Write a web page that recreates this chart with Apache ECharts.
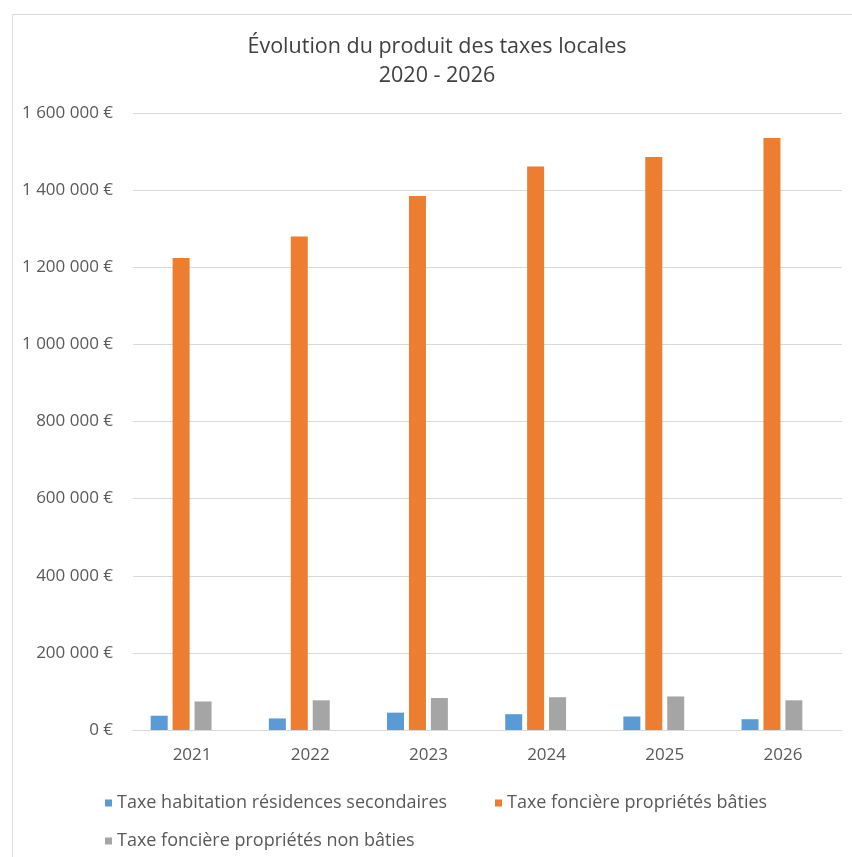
<!DOCTYPE html>
<html lang="fr">
<head>
<meta charset="utf-8">
<title>Évolution du produit des taxes locales</title>
<script src="https://cdn.jsdelivr.net/npm/echarts@6/dist/echarts.min.js"></script>
<style>
  html, body { margin: 0; padding: 0; background: #ffffff; }
  #chart { width: 852px; height: 857px; }
</style>
</head>
<body>
<div id="chart"></div>
<script>
// Years on the category axis
const years = ['2021', '2022', '2023', '2024', '2025', '2026'];

// Tax revenue per year, in euros
const habitationSecondaires = [37000, 30000, 45000, 41000, 35000, 28000];
const foncierBaties = [1224000, 1280000, 1385000, 1461000, 1486000, 1535000];
const foncierNonBaties = [74000, 77000, 83000, 85000, 87000, 77000];

// Value-axis ticks
const yTicks = [0, 200000, 400000, 600000, 800000, 1000000, 1200000, 1400000, 1600000];

const seriesNames = [
  'Taxe habitation résidences secondaires',
  'Taxe foncière propriétés bâties',
  'Taxe foncière propriétés non bâties'
];
const colors = ['#5B9BD5', '#ED7D31', '#A5A5A5'];
const textColor = '#595959';
const lineColor = '#D9D9D9';
const font = '"Open Sans", "Noto Sans", sans-serif';

function euro(v) {
  return String(v).replace(/\B(?=(\d{3})+(?!\d))/g, ' ') + ' €';
}

const chart = echarts.init(document.getElementById('chart'), null, { renderer: 'canvas' });

const legendBase = {
  orient: 'horizontal',
  icon: 'rect',
  itemWidth: 7,
  itemHeight: 7,
  padding: 0,
  selectedMode: false,
  textStyle: { color: textColor, fontFamily: font, fontSize: 18 }
};

const barSeries = [habitationSecondaires, foncierBaties, foncierNonBaties].map((data, i) => ({
  name: seriesNames[i],
  type: 'bar',
  data: data,
  barWidth: 17,
  barGap: '29%',
  itemStyle: { color: colors[i] },
  emphasis: { disabled: true }
}));

// Empty fourth slot in each category group
barSeries.push({
  name: 'slot',
  type: 'bar',
  data: years.map(() => null),
  barWidth: 17,
  barGap: '29%',
  silent: true
});

chart.setOption({
  animation: false,
  backgroundColor: '#ffffff',
  graphic: [{
    type: 'rect',
    left: 10,
    top: 12,
    shape: { width: 900, height: 900 },
    style: { fill: 'none', stroke: lineColor, lineWidth: 1 },
    silent: true
  }],
  title: {
    text: 'Évolution du produit des taxes locales\n2020 - 2026',
    left: 437,
    top: 32,
    padding: 0,
    textAlign: 'center',
    textStyle: {
      color: '#404040',
      fontFamily: font,
      fontSize: 21.5,
      fontWeight: 'normal',
      lineHeight: 29
    }
  },
  legend: [
    Object.assign({}, legendBase, { data: [seriesNames[0]], left: 105, top: 794 }),
    Object.assign({}, legendBase, { data: [seriesNames[1]], left: 495, top: 794 }),
    Object.assign({}, legendBase, { data: [seriesNames[2]], left: 105, top: 832 })
  ],
  grid: {
    left: 133,
    right: 10,
    top: 113,
    bottom: 127,
    containLabel: false
  },
  xAxis: {
    type: 'category',
    data: years,
    axisTick: { show: false },
    axisLine: { lineStyle: { color: lineColor, width: 1 } },
    axisLabel: { color: textColor, fontFamily: font, fontSize: 17, margin: 17 }
  },
  yAxis: {
    type: 'value',
    min: yTicks[0],
    max: yTicks[yTicks.length - 1],
    interval: yTicks[1] - yTicks[0],
    axisLine: { show: false },
    axisTick: { show: false },
    splitLine: { lineStyle: { color: lineColor, width: 1 } },
    axisLabel: {
      color: textColor,
      fontFamily: font,
      fontSize: 17,
      margin: 20,
      formatter: euro
    }
  },
  series: barSeries
});
</script>
</body>
</html>
